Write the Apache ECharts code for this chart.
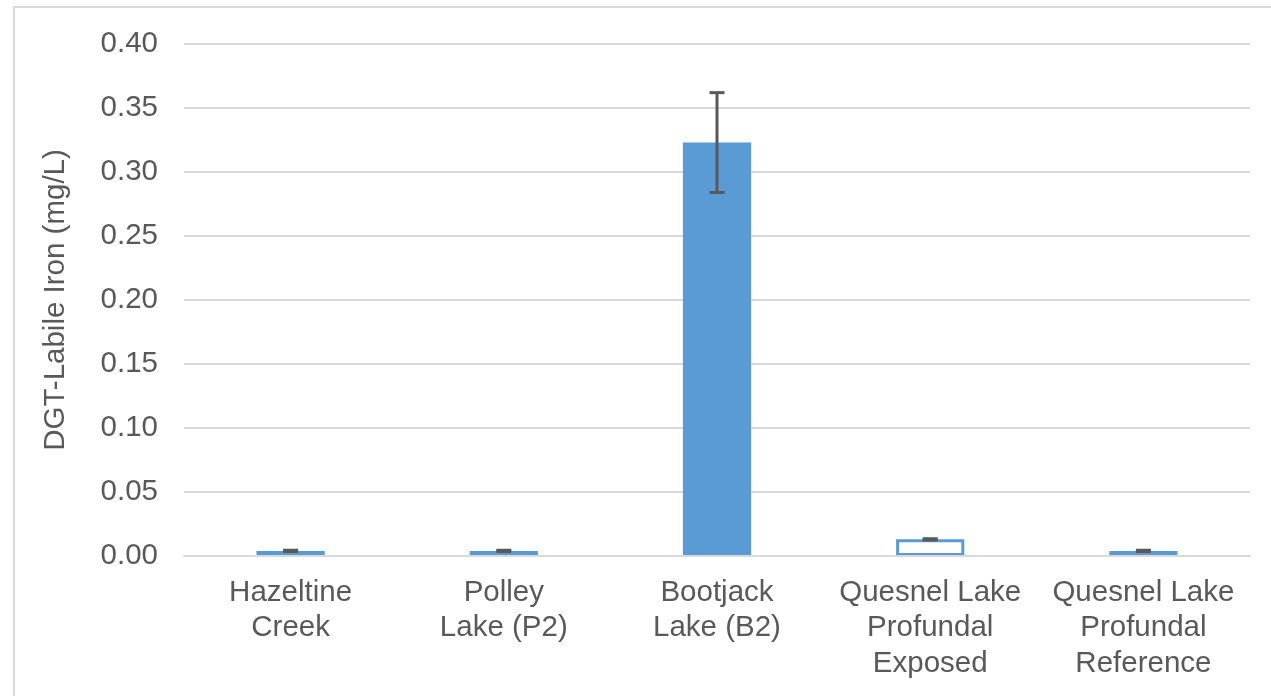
<!DOCTYPE html>
<html>
<head>
<meta charset="utf-8">
<script src="https://cdn.jsdelivr.net/npm/echarts@6/dist/echarts.min.js"></script>
<style>
  html, body { margin: 0; padding: 0; background: #ffffff; }
  #chart { width: 1271px; height: 696px; }
</style>
</head>
<body>
<div id="chart"></div>
<script>
// Sampling sites
const categories = [
  'Hazeltine\nCreek',
  'Polley\nLake (P2)',
  'Bootjack\nLake (B2)',
  'Quesnel Lake\nProfundal\nExposed',
  'Quesnel Lake\nProfundal\nReference'
];
// Mean DGT-labile iron (mg/L)
const ironValues = [0.004, 0.004, 0.323, 0.013, 0.004];
// Error bar half-range (mg/L)
const ironErrors = [0.0005, 0.0005, 0.039, 0.0005, 0.0005];
// Y axis ticks
const yTickMin = 0;
const yTickMax = 0.40;
const yTickStep = 0.05;

const TEXT = '#595959';
const GRID = '#d9d9d9';
const BLUE = '#5b9bd5';
const FONT = 'Liberation Sans, Arial, sans-serif';

const hollowIndex = 3; // exposed profundal site is drawn as an outline

const barData = ironValues.map((v, i) =>
  i === hollowIndex ? { value: v, itemStyle: { color: '#ffffff' } } : v
);
const errorData = ironValues.map((v, i) => [i, v - ironErrors[i], v + ironErrors[i]]);

const chart = echarts.init(document.getElementById('chart'), null, { renderer: 'canvas' });

chart.setOption({
  animation: false,
  backgroundColor: '#ffffff',
  graphic: [{
    type: 'rect',
    shape: { x: 14, y: 7, width: 1300, height: 720 },
    style: { fill: 'none', stroke: GRID, lineWidth: 2 },
    silent: true,
    z: -10
  }],
  grid: { left: 184, right: 21, top: 44, bottom: 140, containLabel: false },
  xAxis: {
    type: 'category',
    data: categories,
    z: 3,
    axisTick: { show: false },
    axisLine: { lineStyle: { color: GRID, width: 2 } },
    axisLabel: {
      interval: 0,
      color: TEXT,
      fontFamily: FONT,
      fontSize: 29.5,
      lineHeight: 35.5,
      margin: 19
    }
  },
  yAxis: {
    type: 'value',
    min: yTickMin,
    max: yTickMax,
    interval: yTickStep,
    name: 'DGT-Labile Iron (mg/L)',
    nameLocation: 'middle',
    nameGap: 113,
    nameTextStyle: { color: TEXT, fontFamily: FONT, fontSize: 29.5 },
    axisLine: { show: false },
    axisTick: { show: false },
    splitLine: { lineStyle: { color: GRID, width: 2 } },
    axisLabel: {
      color: TEXT,
      fontFamily: FONT,
      fontSize: 29.5,
      margin: 26,
      formatter: v => v.toFixed(2)
    }
  },
  series: [
    {
      type: 'bar',
      data: barData,
      barWidth: '32%',
      itemStyle: { color: BLUE, borderColor: BLUE, borderWidth: 3 }
    },
    {
      type: 'custom',
      data: errorData,
      z: 5,
      renderItem: function (params, api) {
        const idx = api.value(0);
        const lo = api.coord([idx, api.value(1)]);
        const hi = api.coord([idx, api.value(2)]);
        const half = 7.5;
        const style = { stroke: TEXT, lineWidth: 3 };
        return {
          type: 'group',
          children: [
            { type: 'line', shape: { x1: hi[0], y1: hi[1], x2: lo[0], y2: lo[1] }, style: style },
            { type: 'line', shape: { x1: hi[0] - half, y1: hi[1], x2: hi[0] + half, y2: hi[1] }, style: style },
            { type: 'line', shape: { x1: lo[0] - half, y1: lo[1], x2: lo[0] + half, y2: lo[1] }, style: style }
          ]
        };
      }
    }
  ]
});
</script>
</body>
</html>
